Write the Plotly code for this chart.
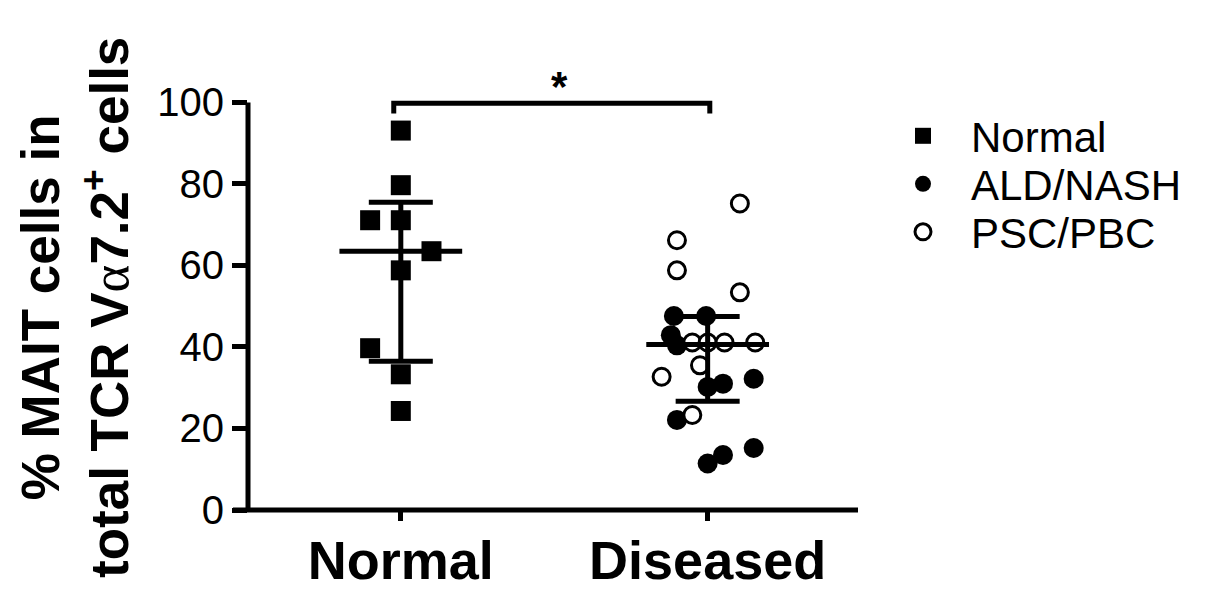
import plotly.graph_objects as go

# ---------------- data ----------------
categories = ["Normal", "Diseased"]
cat_pos = [0, 1]

normal_vals = [93.1, 79.7, 71.1, 71.1, 63.5, 58.8, 39.7, 33.3, 24.3]
normal_jitter = [0.0, 0.0, -0.10, 0.0, 0.10, 0.0, -0.10, 0.0, 0.0]

ald_vals = [47.6, 47.6, 42.9, 40.4, 31.0, 30.2, 32.2, 22.1, 13.5, 11.4, 15.2]
ald_jitter = [-0.11, -0.005, -0.12, -0.10, 0.05, 0.0, 0.15, -0.10, 0.05, 0.0, 0.15]

psc_vals = [75.2, 66.2, 58.8, 53.4, 41.1, 41.1, 41.1, 41.1, 35.5, 32.7, 23.3]
psc_jitter = [0.105, -0.10, -0.10, 0.105, -0.05, 0.0, 0.055, 0.155, -0.025, -0.15, -0.05]

medians = [63.5, 40.6]
q1 = [36.5, 26.7]
q3 = [75.5, 47.5]

y_ticks = [0, 20, 40, 60, 80, 100]
sig_label = "*"

# ---------------- layout constants ----------------
FONT = "Liberation Sans, Arial, sans-serif"
X_RANGE = [-0.498, 1.49]
Y_RANGE = [0, 106]
W, H = 1210, 596
ML, MR, MT, MB = 240, 360, 70, 94
PW = W - ML - MR
PH = H - MT - MB


def px_to_paper_x(px):
    return (px - ML) / PW


def px_to_paper_y(py):
    return (MT + PH - py) / PH


fig = go.Figure()

# Normal squares
fig.add_trace(go.Scatter(
    x=[cat_pos[0] + j for j in normal_jitter], y=normal_vals,
    mode="markers", name="Normal", legend="legend",
    marker=dict(symbol="square", size=20, color="black", line=dict(width=0)),
))
# ALD/NASH filled circles
fig.add_trace(go.Scatter(
    x=[cat_pos[1] + j for j in ald_jitter], y=ald_vals,
    mode="markers", name="ALD/NASH", legend="legend2",
    marker=dict(symbol="circle", size=20, color="black", line=dict(width=0)),
))
# PSC/PBC open circles
fig.add_trace(go.Scatter(
    x=[cat_pos[1] + j for j in psc_jitter], y=psc_vals,
    mode="markers", name="PSC/PBC", legend="legend3",
    marker=dict(symbol="circle", size=17, color="white", line=dict(width=3, color="black")),
))

# median lines and IQR whiskers
med_x, med_y = [], []
for p, m in zip(cat_pos, medians):
    med_x += [p - 0.2, p + 0.2, None]
    med_y += [m, m, None]
fig.add_trace(go.Scatter(x=med_x, y=med_y, mode="lines", showlegend=False,
                         hoverinfo="skip", line=dict(color="black", width=5)))
fig.add_trace(go.Scatter(
    x=cat_pos, y=medians, mode="markers", showlegend=False, hoverinfo="skip",
    marker=dict(size=1, opacity=0),
    error_y=dict(type="data", symmetric=False,
                 array=[b - m for b, m in zip(q3, medians)],
                 arrayminus=[m - a for m, a in zip(medians, q1)],
                 color="black", thickness=5, width=32),
))

# significance bracket
fig.add_trace(go.Scatter(
    x=[cat_pos[0] - 0.023, cat_pos[0] - 0.023, cat_pos[1] + 0.007, cat_pos[1] + 0.007],
    y=[97.3, 99.8, 99.8, 97.3], mode="lines", showlegend=False, hoverinfo="skip",
    line=dict(color="black", width=5),
))
fig.add_annotation(x=0.518, y=104.0, xref="x", yref="y", text=f"<b>{sig_label}</b>",
                   showarrow=False, font=dict(family=FONT, size=42, color="black"),
                   yanchor="middle")

# axis lines drawn as shapes (paper coords)
y100 = (100 - Y_RANGE[0]) / (Y_RANGE[1] - Y_RANGE[0])
fig.add_shape(type="line", xref="paper", yref="paper", x0=0, x1=0, y0=0, y1=y100,
              line=dict(color="black", width=5))
fig.add_shape(type="line", xref="paper", yref="paper", x0=-15 / PW, x1=1, y0=0, y1=0,
              line=dict(color="black", width=5))

# y-axis title
title_txt = ("<b>% MAIT cells in</b><br><b>total TCR V"
             "<span style=\"font-family:Liberation Serif;font-weight:normal\">α</span>"
             "7.2<sup>+</sup> cells</b>")
fig.add_annotation(x=px_to_paper_x(67), y=px_to_paper_y(299), xref="paper", yref="paper",
                   text=title_txt, textangle=-90, showarrow=False,
                   font=dict(family=FONT, size=53, color="black"),
                   xanchor="center", yanchor="middle")

legend_common = dict(xanchor="left", yanchor="middle",
                     font=dict(family=FONT, size=42, color="black"),
                     bgcolor="rgba(0,0,0,0)", itemsizing="trace", itemwidth=86)
LEG_X = px_to_paper_x(867)

fig.update_layout(
    width=W, height=H,
    margin=dict(l=ML, r=MR, t=MT, b=MB, pad=0, autoexpand=False),
    paper_bgcolor="white", plot_bgcolor="white",
    showlegend=True,
    legend=dict(x=LEG_X, y=px_to_paper_y(128), **legend_common),
    legend2=dict(x=LEG_X, y=px_to_paper_y(176), **legend_common),
    legend3=dict(x=LEG_X, y=px_to_paper_y(224), **legend_common),
    xaxis=dict(range=X_RANGE, tickvals=cat_pos, ticktext=categories,
               showgrid=False, zeroline=False, showline=False, automargin=False,
               ticks="outside", ticklen=10, tickwidth=5, tickcolor="black",
               ticklabelstandoff=-7,
               tickfont=dict(family=FONT, size=54, color="black", weight="bold")),
    yaxis=dict(range=Y_RANGE, tickvals=y_ticks,
               showgrid=False, zeroline=False, showline=False, automargin=False,
               ticks="outside", ticklen=15, tickwidth=5, tickcolor="black",
               tickfont=dict(family=FONT, size=40, color="black")),
)

fig.write_html("out.html")
